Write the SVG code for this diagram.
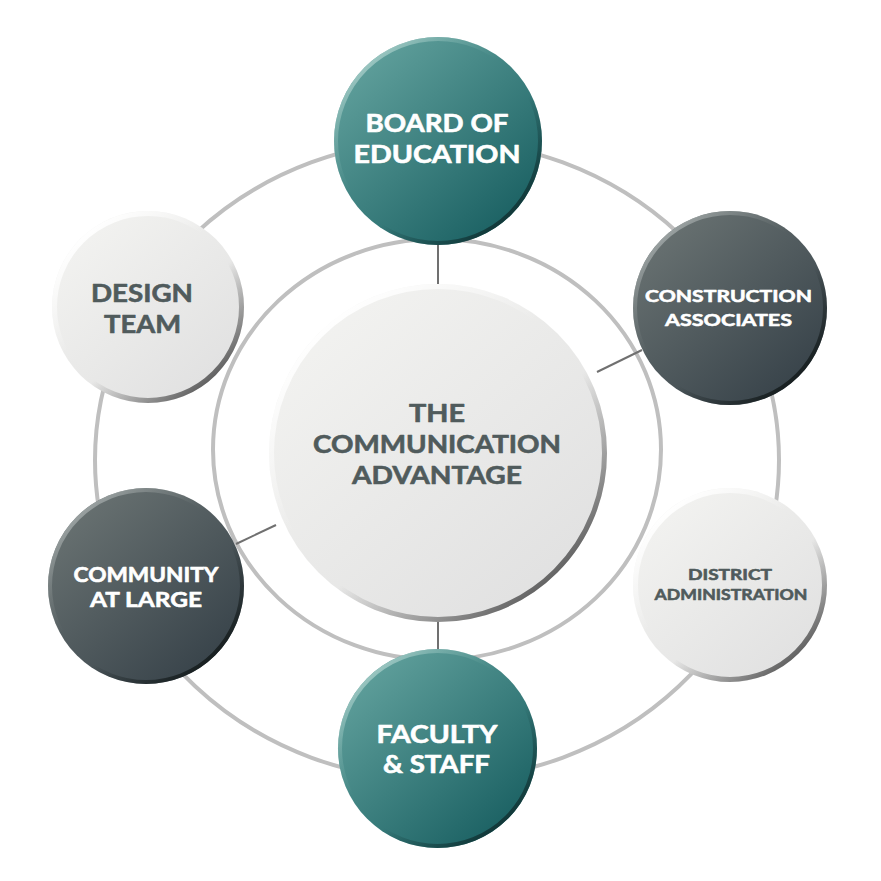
<svg xmlns="http://www.w3.org/2000/svg" width="881" height="881" viewBox="0 0 881 881">
<style>
.ring{fill:none;stroke:#bfbfbf;stroke-width:4}
.conn{stroke:#707070;stroke-width:2;fill:none}
.t{font-family:"Lato","Open Sans","Liberation Sans",sans-serif;font-weight:700;text-anchor:middle;stroke-width:0.6;stroke-linejoin:round}
.w{fill:#ffffff;stroke:#ffffff}
.g{fill:#505b5c;stroke:#505b5c}
</style>
<defs>
<linearGradient id="tealFill" x1="0.15" y1="0.1" x2="0.85" y2="0.9">
<stop offset="0" stop-color="#5f9f9b"/>
<stop offset="1" stop-color="#1b6163"/>
</linearGradient>
<linearGradient id="tealRim" x1="0.15" y1="0.1" x2="0.85" y2="0.9">
<stop offset="0" stop-color="#a6cdc8" stop-opacity="0.9"/>
<stop offset="0.4" stop-color="#6aa7a2" stop-opacity="0"/>
<stop offset="0.62" stop-color="#163f40" stop-opacity="0"/>
<stop offset="1" stop-color="#113536" stop-opacity="1"/>
</linearGradient>
<linearGradient id="darkFill" x1="0.15" y1="0.1" x2="0.85" y2="0.9">
<stop offset="0" stop-color="#687171"/>
<stop offset="1" stop-color="#38434a"/>
</linearGradient>
<linearGradient id="darkRim" x1="0.15" y1="0.1" x2="0.85" y2="0.9">
<stop offset="0" stop-color="#a3aaaa" stop-opacity="0.9"/>
<stop offset="0.4" stop-color="#7a8282" stop-opacity="0"/>
<stop offset="0.62" stop-color="#1c2425" stop-opacity="0"/>
<stop offset="1" stop-color="#161d1e" stop-opacity="1"/>
</linearGradient>
<linearGradient id="lightFill" x1="0.15" y1="0.1" x2="0.85" y2="0.9">
<stop offset="0" stop-color="#f2f2f0"/>
<stop offset="1" stop-color="#e1e1e1"/>
</linearGradient>
<linearGradient id="lightRim" x1="0.15" y1="0.1" x2="0.85" y2="0.9">
<stop offset="0" stop-color="#ffffff" stop-opacity="1"/>
<stop offset="0.4" stop-color="#ffffff" stop-opacity="0"/>
<stop offset="0.6" stop-color="#6a6a6a" stop-opacity="0"/>
<stop offset="1" stop-color="#5c5c5c" stop-opacity="1"/>
</linearGradient>
</defs>

<g id="rings">
<ellipse class="ring" cx="437" cy="460" rx="342" ry="320"/>
<ellipse class="ring" cx="437" cy="449.5" rx="224" ry="210.5"/>
</g>

<g id="connectors">
<line class="conn" x1="438" y1="244" x2="438" y2="284"/>
<line class="conn" x1="438" y1="621" x2="438" y2="650"/>
<line class="conn" x1="597" y1="372" x2="642" y2="350"/>
<line class="conn" x1="276" y1="525" x2="236" y2="544"/>
</g>

<g id="center">
<circle cx="438" cy="453" r="169" fill="url(#lightFill)"/>
<circle cx="438" cy="453" r="166.5" fill="none" stroke="url(#lightRim)" stroke-width="5"/>
<text class="t g" font-size="24.5" x="437" y="422" textLength="56" lengthAdjust="spacingAndGlyphs">THE</text>
<text class="t g" font-size="24.5" x="437" y="453" textLength="248" lengthAdjust="spacingAndGlyphs">COMMUNICATION</text>
<text class="t g" font-size="24.5" x="437" y="484" textLength="170" lengthAdjust="spacingAndGlyphs">ADVANTAGE</text>
</g>

<g id="board">
<circle cx="438" cy="141" r="104" fill="url(#tealFill)"/>
<circle cx="438" cy="141" r="102" fill="none" stroke="url(#tealRim)" stroke-width="4"/>
<text class="t w" font-size="24.5" x="437" y="132" textLength="143" lengthAdjust="spacingAndGlyphs">BOARD OF</text>
<text class="t w" font-size="24.5" x="437" y="163" textLength="167" lengthAdjust="spacingAndGlyphs">EDUCATION</text>
</g>

<g id="construction">
<circle cx="730" cy="308" r="97" fill="url(#darkFill)"/>
<circle cx="730" cy="308" r="95" fill="none" stroke="url(#darkRim)" stroke-width="4"/>
<text class="t w" font-size="17" x="728.5" y="302" textLength="167" lengthAdjust="spacingAndGlyphs">CONSTRUCTION</text>
<text class="t w" font-size="17" x="728.5" y="326" textLength="127" lengthAdjust="spacingAndGlyphs">ASSOCIATES</text>
</g>

<g id="district">
<circle cx="730" cy="585" r="97" fill="url(#lightFill)"/>
<circle cx="730" cy="585" r="94.5" fill="none" stroke="url(#lightRim)" stroke-width="5"/>
<text class="t g" font-size="15.5" x="730" y="580" textLength="84" lengthAdjust="spacingAndGlyphs">DISTRICT</text>
<text class="t g" font-size="15.5" x="731" y="600" textLength="153" lengthAdjust="spacingAndGlyphs">ADMINISTRATION</text>
</g>

<g id="design">
<circle cx="148" cy="307" r="96" fill="url(#lightFill)"/>
<circle cx="148" cy="307" r="93.5" fill="none" stroke="url(#lightRim)" stroke-width="5"/>
<text class="t g" font-size="24.5" x="142" y="302" textLength="102" lengthAdjust="spacingAndGlyphs">DESIGN</text>
<text class="t g" font-size="24.5" x="142.5" y="333" textLength="77" lengthAdjust="spacingAndGlyphs">TEAM</text>
</g>

<g id="community">
<circle cx="146" cy="586" r="98" fill="url(#darkFill)"/>
<circle cx="146" cy="586" r="96" fill="none" stroke="url(#darkRim)" stroke-width="4"/>
<text class="t w" font-size="20.5" x="146" y="582" textLength="145" lengthAdjust="spacingAndGlyphs">COMMUNITY</text>
<text class="t w" font-size="20.5" x="146" y="607" textLength="112" lengthAdjust="spacingAndGlyphs">AT LARGE</text>
</g>

<g id="faculty">
<circle cx="437.5" cy="748.5" r="99.5" fill="url(#tealFill)"/>
<circle cx="437.5" cy="748.5" r="97.5" fill="none" stroke="url(#tealRim)" stroke-width="4"/>
<text class="t w" font-size="24.5" x="437" y="743" textLength="121" lengthAdjust="spacingAndGlyphs">FACULTY</text>
<text class="t w" font-size="24.5" x="436.5" y="773" textLength="107" lengthAdjust="spacingAndGlyphs">&amp; STAFF</text>
</g>
</svg>
